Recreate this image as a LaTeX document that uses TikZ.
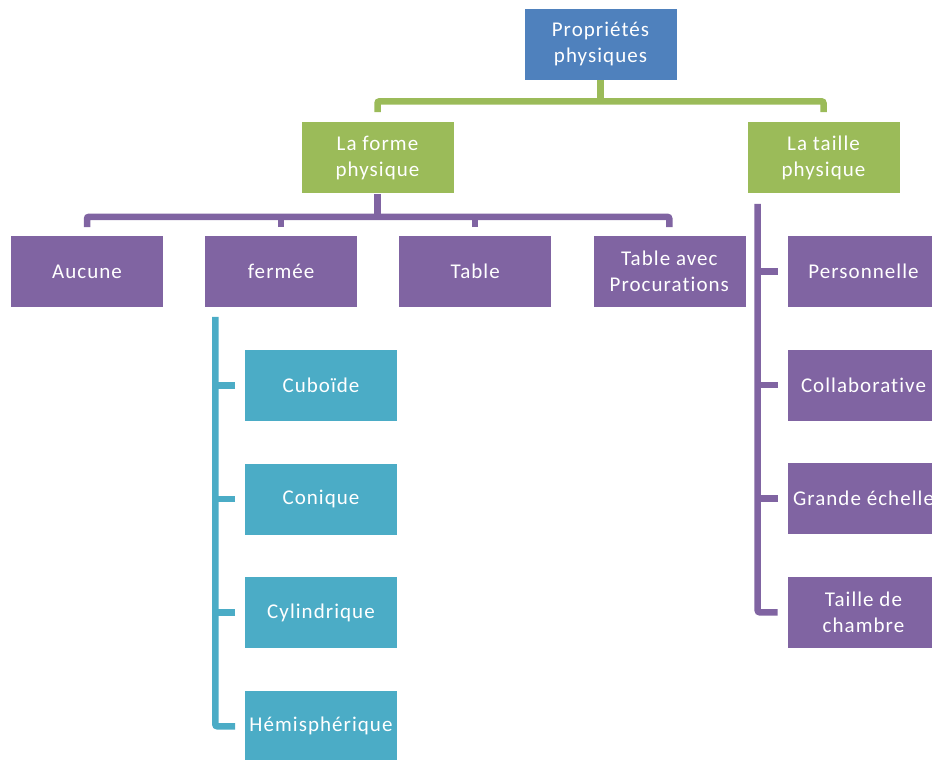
\documentclass[tikz,border=0pt]{standalone}
\usepackage{fontspec}
\setmainfont{Carlito}[LetterSpace=5, Ligatures={NoCommon}]
\usetikzlibrary{positioning,calc}
\definecolor{ppBlue}{HTML}{4F81BD}
\definecolor{ppGreen}{HTML}{9BBB59}
\definecolor{ppPurple}{HTML}{8064A2}
\definecolor{ppTeal}{HTML}{4BACC6}
\tikzset{
    ppBox/.style={
        rectangle,
        draw=white,
        line width=0.6pt,
        minimum width=153pt,
        minimum height=72pt,
        inner sep=1pt,
        text=white,
        font=\fontsize{21}{26}\selectfont,
        align=center
    },
    % box colours
    rootbox/.style={ppBox, fill=ppBlue},
    greenbox/.style={ppBox, fill=ppGreen},
    purplebox/.style={ppBox, fill=ppPurple},
    tealbox/.style={ppBox, fill=ppTeal},
    % connectors
    ppLink/.style={line width=6.5pt, rounded corners=2pt},
    greenLink/.style={ppLink, draw=ppGreen},
    purpleLink/.style={ppLink, draw=ppPurple},
    tealLink/.style={ppLink, draw=ppTeal}
}

\begin{document}
\begin{tikzpicture}[x=1pt, y=-1pt]
\useasboundingbox (0,0) rectangle (932,760);
\clip (0,0) rectangle (932,760);

\node[rootbox] (root) at (600.5,44) {Propriétés\\physiques};
\node[greenbox] (forme) at (377.5,157.5) {La forme\\physique};
\node[greenbox] (taille) at (823.5,157.5) {La taille\\physique};

\node[purplebox] (aucune) at (87,271.5) {Aucune};
\node[purplebox, right=40.5pt of aucune] (fermee) {fermée};
\node[purplebox, right=40.5pt of fermee] (table) {Table};
\node[purplebox, right=40.5pt of table] (tableproc) {Table avec\\Procurations};

\node[tealbox] (cubo) at (321,385.5) {Cuboïde};
\node[tealbox, below=41pt of cubo] (coni) {Conique};
\node[tealbox, below=41pt of coni] (cyli) {Cylindrique};
\node[tealbox, below=41pt of cyli] (hemi) {\makebox[0pt]{Hémisphérique}};

\node[purplebox] (perso) at (863.5,271.5) {Personnelle};
\node[purplebox, below=41pt of perso] (collab) {Collaborative};
\node[purplebox, below=41pt of collab] (grande) {\makebox[0pt]{Grande échelle}};
\node[purplebox, below=41pt of grande] (chambre) {Taille de\\chambre};

% green bracket
\draw[greenLink] (root.south) -- ++(0,21) coordinate (gbar);
\draw[greenLink] ([yshift=9pt]forme.north) |- (gbar) -| ([yshift=9pt]taille.north);

% purple bracket
\draw[purpleLink] (forme.south) -- ++(0,23) coordinate (pbar);
\draw[purpleLink] ([yshift=8pt]aucune.north) |- (pbar) -| ([yshift=8pt]tableproc.north);
\foreach \n in {fermee,table}
    \draw[purpleLink] ([yshift=8pt]\n.north) -- (\n.north |- pbar);

% right spine
\coordinate (tspine) at ([xshift=11pt,yshift=-10pt]taille.south west);
\draw[purpleLink] (tspine) |- ([xshift=-9pt]chambre.west);
\foreach \n in {perso,collab,grande}
    \draw[purpleLink] ([xshift=-9pt]\n.west) -- (\n.west -| tspine);

% teal spine
\coordinate (fspine) at ([xshift=11pt,yshift=-9pt]fermee.south west);
\draw[tealLink] (fspine) |- ([xshift=-9pt]hemi.west);
\foreach \n in {cubo,coni,cyli}
    \draw[tealLink] ([xshift=-9pt]\n.west) -- (\n.west -| fspine);
\end{tikzpicture}
\end{document}
